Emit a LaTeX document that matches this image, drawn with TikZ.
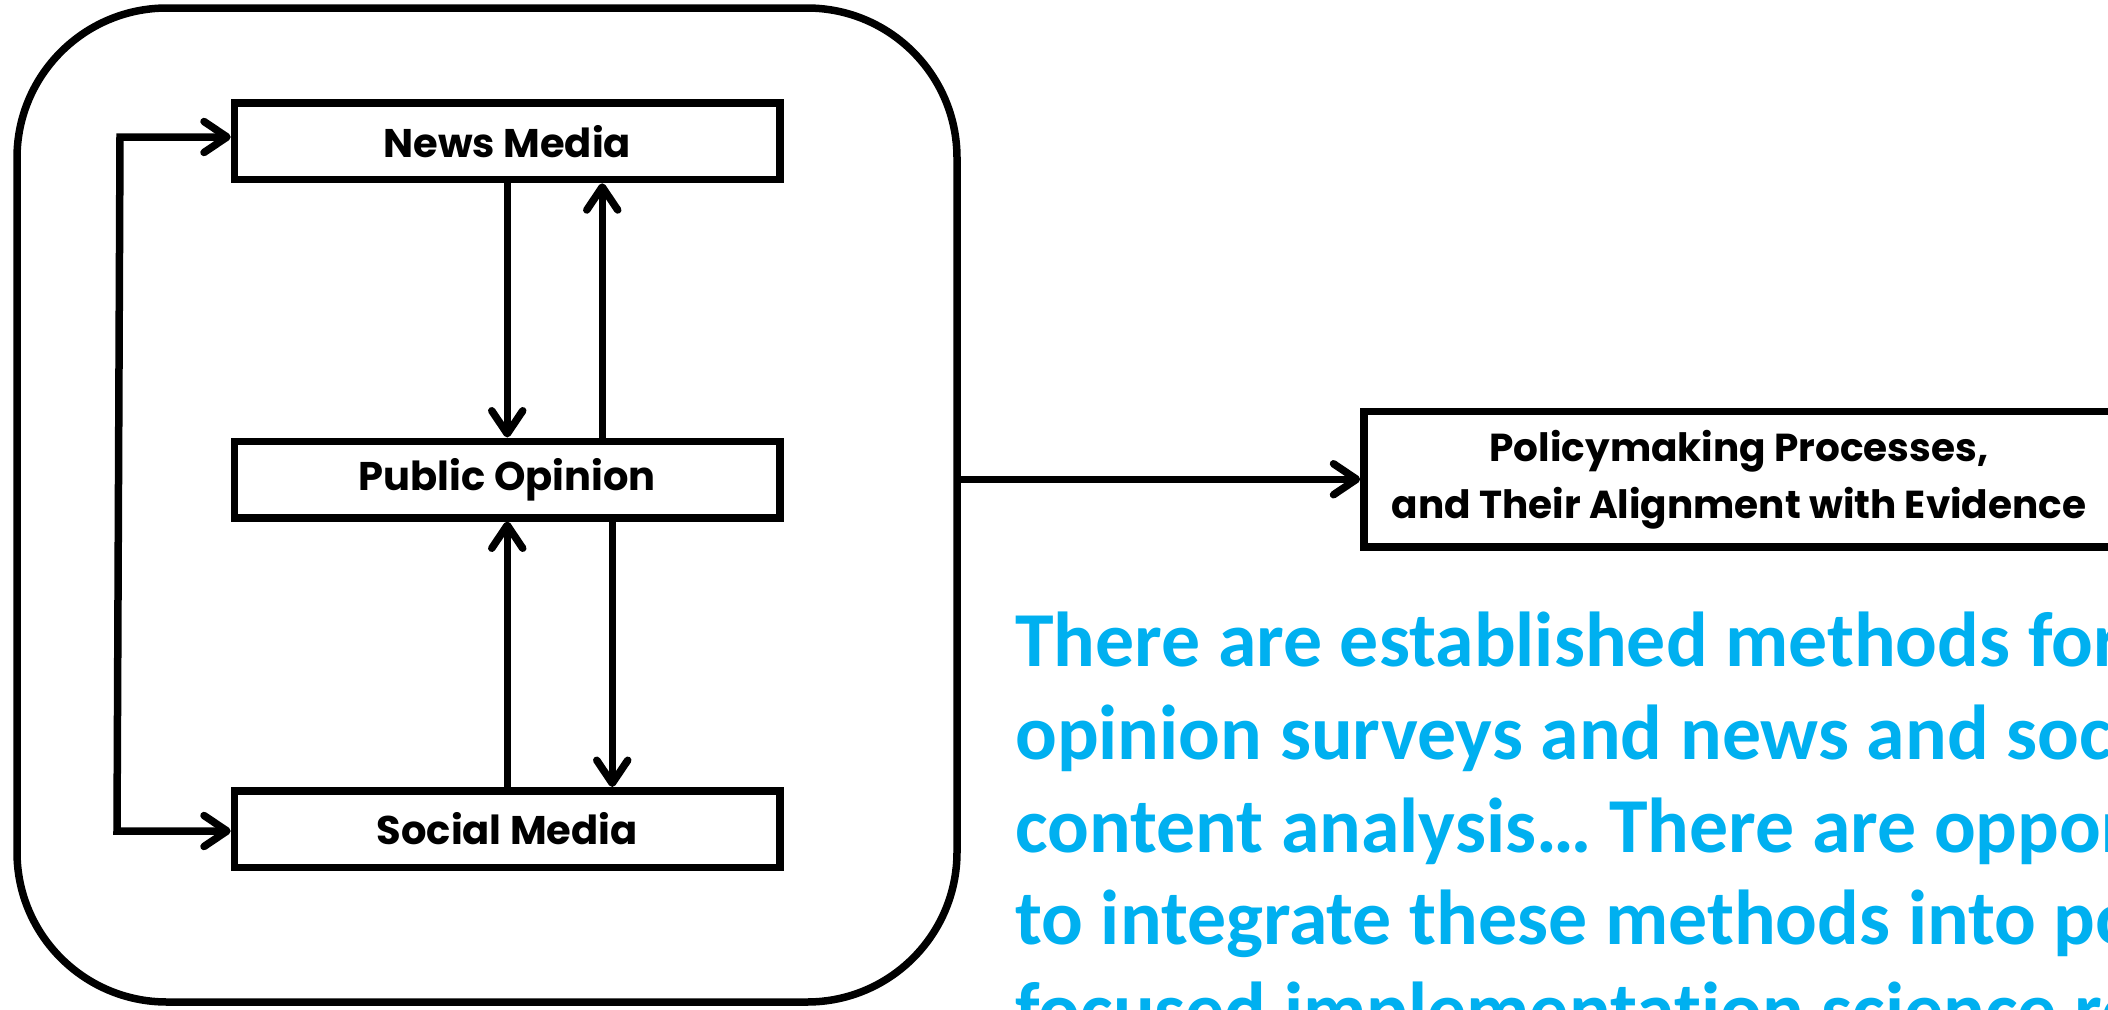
\documentclass[tikz,border=0pt]{standalone}
\usepackage{fontspec}
\usetikzlibrary{arrows.meta}
\newfontfamily\labelfont{Poppins}
\newfontfamily\bluefont{Carlito}[Ligatures=NoCommon]
\definecolor{ablue}{HTML}{00B0F0}
\tikzset{
  boxnode/.style={draw, line width=7.5pt, minimum width=545.5pt, minimum height=76.5pt, inner sep=0pt,
    font=\labelfont\bfseries\fontsize{40}{48}\selectfont},
  arr/.style={line width=7.5pt, -{Straight Barb[length=23pt,width=31pt,round]}},
  arrboth/.style={line width=7.5pt, {Straight Barb[length=23pt,width=31pt,round]}-{Straight Barb[length=23pt,width=31pt,round]}},
  bluetext/.style={anchor=base west, inner sep=0pt, text=ablue, font=\bluefont\bfseries\fontsize{77.8}{92}\selectfont}
}
\begin{document}
\begin{tikzpicture}[x=1pt,y=-1pt]
\useasboundingbox (0,0) rectangle (2108,1009);
\clip (0,0) rectangle (2108,1009);
\fill[white] (0,0) rectangle (2108,1009);
% outer frame
\node[draw, line width=7.5pt, rounded corners=150pt, minimum width=940pt, minimum height=994pt, inner sep=0pt] (frame) at (487,505) {};
% boxes
\node[boxnode] (news) at (507.25,141.25) {News Media};
\node[boxnode] (public) at (507.25,479.5) {Public Opinion};
\node[boxnode] (social) at (507.25,829) {Social Media};
% policy box
\node[draw, line width=7.5pt, minimum width=750pt, minimum height=135.5pt, inner sep=0pt, align=center,
  font=\labelfont\bfseries\fontsize{39}{57}\selectfont] (policy) at (1739,479.25)
  {Policymaking Processes,\\and Their Alignment with Evidence};
% vertical arrows
\draw[arr] (news.south) -- (public.north);
\draw[arr] ([xshift=95pt]public.north) -- ([xshift=95pt]news.south);
\draw[arr] (social.north) -- (public.south);
\draw[arr] ([xshift=105pt]public.south) -- ([xshift=105pt]social.north);
% left feedback connector
\coordinate (lt) at (120,137);
\coordinate (lb) at (117,831);
\draw[arrboth] (lt -| news.west) -- (lt) -- (lb) -- (lb -| social.west);
% frame to policy
\draw[arr] (frame.east |- policy.west) -- (policy.west);
% blue text
\node[bluetext] (b1) at (1015,666) {There are established methods for public};
\node[bluetext] (b2) at (1015,759) {opinion surveys and news and social media};
\node[bluetext] (b3) at (1015,852) {content analysis… There are opportunities};
\node[bluetext] (b4) at (1015,944) {to integrate these methods into policy-};
\node[bluetext] (b5) at (1015,1036) {focused implementation science research};
\end{tikzpicture}
\end{document}
